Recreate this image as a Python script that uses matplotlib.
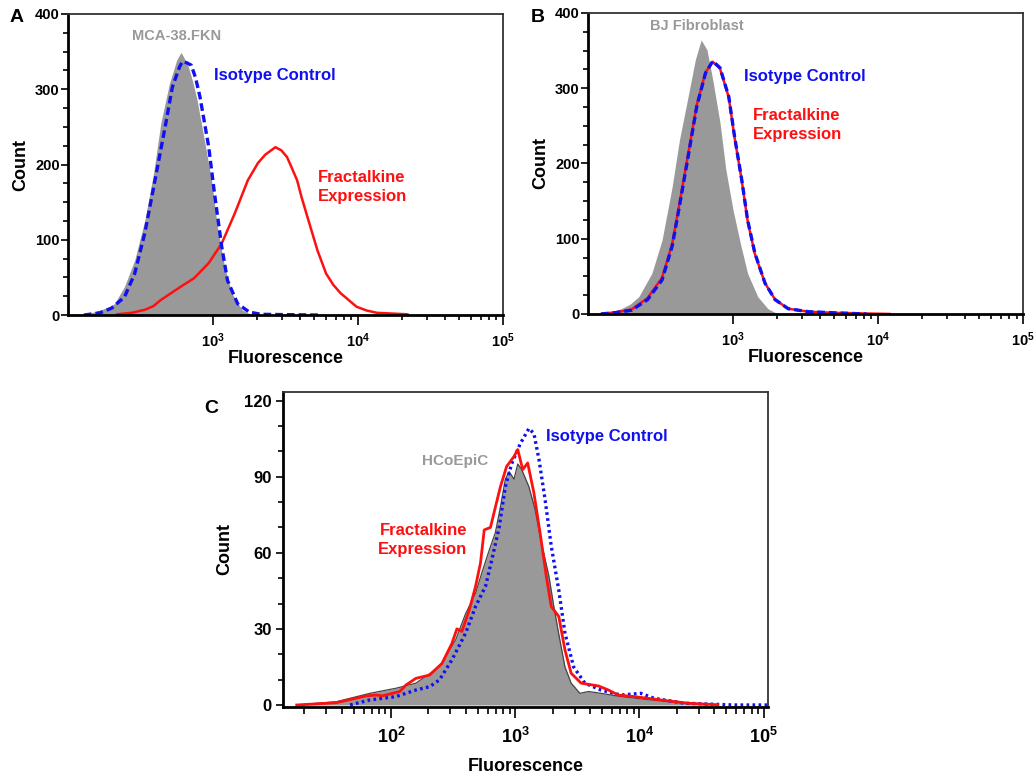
"""
Flow cytometry histograms of fractalkine expression against isotype control
for three cell lines (panels A, B and C).
"""

import numpy as np
import matplotlib
matplotlib.use("Agg")
import matplotlib.pyplot as plt
from matplotlib.ticker import FixedLocator, FixedFormatter, NullFormatter

plt.rcParams['font.family'] = ['Liberation Sans', 'DejaVu Sans']
plt.rcParams['font.weight'] = 'bold'
plt.rcParams['mathtext.fontset'] = 'custom'
plt.rcParams['mathtext.rm'] = 'Liberation Sans:bold'
plt.rcParams['mathtext.bf'] = 'Liberation Sans:bold'
plt.rcParams['lines.solid_joinstyle'] = 'round'

GREY = "#999999"
BLUE = "#1010f0"
RED = "#ff1010"

# ---- panel A : MCA-38.FKN  (x given as log10 of fluorescence) ----
a_grey_log = [2.08, 2.16, 2.23, 2.28, 2.32, 2.39, 2.46, 2.53, 2.59, 2.64, 2.70,
              2.75, 2.78, 2.80, 2.83, 2.86, 2.89, 2.94, 2.99, 3.03, 3.08, 3.13,
              3.20, 3.27]
a_grey_cnt = [0, 3, 7, 11, 15, 38, 73, 126, 188, 255, 308,
              339, 349, 342, 330, 310, 286, 233, 179, 117, 64, 29,
              7, 0]

a_iso_log = [2.11, 2.22, 2.30, 2.39, 2.46, 2.53, 2.60, 2.67, 2.72, 2.77, 2.79,
             2.82, 2.85, 2.88, 2.91, 2.97, 3.01, 3.06, 3.10, 3.17, 3.25, 3.33,
             3.74]
a_iso_cnt = [0, 3, 9, 24, 55, 109, 179, 250, 303, 330, 337,
             335, 332, 315, 290, 224, 162, 91, 46, 15, 4, 1,
             0]

a_fkn_log = [2.34, 2.44, 2.53, 2.59, 2.64, 2.71, 2.78, 2.87, 2.97, 3.06, 3.15,
             3.24, 3.31, 3.36, 3.43, 3.47, 3.51, 3.54, 3.58, 3.61, 3.65, 3.72,
             3.78, 3.83, 3.88, 3.99, 4.06, 4.13, 4.34]
a_fkn_cnt = [1, 3, 7, 12, 20, 29, 38, 49, 69, 95, 135,
             179, 202, 213, 223, 219, 210, 197, 179, 157, 131, 86,
             55, 40, 29, 11, 6, 3, 1]

# ---- panel B : BJ Fibroblast ----
b_grey_log = [2.09, 2.16, 2.23, 2.29, 2.35, 2.44, 2.51, 2.58, 2.63, 2.69, 2.74,
              2.78, 2.82, 2.86, 2.91, 2.95, 3.00, 3.05, 3.10, 3.17, 3.24, 3.31]
b_grey_cnt = [0, 3, 7, 13, 23, 54, 98, 169, 231, 289, 338,
              364, 351, 311, 254, 192, 138, 94, 54, 23, 7, 0]

b_iso_log = [2.09, 2.20, 2.30, 2.41, 2.51, 2.58, 2.63, 2.69, 2.75, 2.81, 2.86,
             2.91, 2.97, 3.01, 3.06, 3.10, 3.15, 3.22, 3.29, 3.38, 3.52, 3.70,
             3.92]
b_iso_cnt = [0, 2, 5, 19, 45, 90, 143, 209, 276, 320, 336,
             327, 289, 236, 178, 125, 81, 41, 19, 7, 3, 1.5,
             0]

b_fkn_log = [2.09, 2.20, 2.30, 2.41, 2.51, 2.58, 2.63, 2.69, 2.75, 2.81, 2.86,
             2.91, 2.97, 3.01, 3.06, 3.10, 3.15, 3.22, 3.29, 3.38, 3.52, 3.70,
             4.08]
b_fkn_cnt = [0, 2.5, 6, 21, 48, 93, 146, 212, 278, 321, 335,
             326, 288, 235, 177, 124, 80, 41, 19, 7, 3, 1.5,
             0]

# ---- panel C : HCoEpiC ----
c_grey_log = [1.24, 1.56, 1.83, 2.04, 2.20, 2.33, 2.41, 2.52, 2.60, 2.68, 2.73,
              2.79, 2.84, 2.88, 2.92, 2.95, 2.99, 3.02, 3.05, 3.11, 3.16, 3.21,
              3.27, 3.31, 3.35, 3.40, 3.45, 3.52, 3.59, 3.69, 3.85, 4.09, 4.36, 4.55]
c_grey_cnt = [0, 1.3, 4.6, 6.6, 8.6, 13, 16.4, 25.7, 36, 44, 52,
              61, 68, 78, 89, 92, 89, 95, 93, 86, 77, 64,
              51, 39, 28, 15, 8.6, 4.6, 5.3, 4.6, 3.3, 2, 0.7, 0]

c_iso_log = [1.67, 1.83, 2.04, 2.20, 2.31, 2.39, 2.49, 2.60, 2.68, 2.76, 2.81,
             2.87, 2.92, 2.97, 3.04, 3.11, 3.15, 3.19, 3.24, 3.29, 3.35, 3.40,
             3.47, 3.56, 3.69, 3.85, 4.01, 4.12, 4.36, 4.76, 5.03]
c_iso_cnt = [0, 2, 3.3, 5.9, 7.2, 9.9, 17.8, 28.3, 38.8, 46.7, 57,
             70, 86, 95, 103, 109, 107, 97, 81, 62.5, 45.4, 28.3,
             15, 8.6, 5.9, 3.9, 4.6, 2.6, 0.7, 0, 0]

c_fkn_log = [1.24, 1.56, 1.80, 1.88, 1.93, 2.07, 2.12, 2.20, 2.31, 2.41, 2.49,
             2.53, 2.57, 2.63, 2.68, 2.72, 2.75, 2.80, 2.84, 2.88, 2.93, 2.99,
             3.02, 3.06, 3.10, 3.15, 3.20, 3.25, 3.29, 3.35, 3.40, 3.45, 3.53,
             3.67, 3.75, 3.83, 3.96, 4.17, 4.39, 4.63]
c_fkn_cnt = [0, 0.9, 3.6, 3.9, 3.6, 5.3, 7.9, 10.5, 11.8, 16.4, 24.3,
             30, 29, 37.5, 46.7, 56, 69, 70, 78, 86, 94, 98,
             100.7, 92.8, 95.4, 83.6, 67.8, 50.7, 38.8, 34.9, 21.7, 12.5, 8.6,
             7.5, 5.9, 3.9, 3.3, 2, 0.7, 0.1]


def style_axes(ax):
    for side in ["left", "bottom"]:
        ax.spines[side].set_linewidth(2.0)
        ax.spines[side].set_color("black")
    for side in ["top", "right"]:
        ax.spines[side].set_linewidth(1.3)
        ax.spines[side].set_color("#333333")
    ax.tick_params(which="both", direction="out", width=1.2, colors="black")
    ax.tick_params(which="major", length=5)
    ax.tick_params(which="minor", length=3.5)


def top_panel(ax, grey_log, grey_cnt, iso_log, iso_cnt, fkn_log, fkn_cnt):
    ax.fill_between(10**np.array(grey_log), grey_cnt, 0, color=GREY, lw=0)
    ax.plot(10**np.array(fkn_log), fkn_cnt, color=RED, lw=1.8)
    ax.plot(10**np.array(iso_log), iso_cnt, color=BLUE, lw=2.4,
            dashes=(2.3, 1.2))
    ax.set_xscale("log")
    ax.set_xlim(1e2, 1e5)
    ax.set_ylim(0, 400)
    ax.xaxis.set_major_locator(FixedLocator([1e3, 1e4, 1e5]))
    ax.xaxis.set_major_formatter(FixedFormatter(
        [r"$\mathbf{10^{3}}$", r"$\mathbf{10^{4}}$", r"$\mathbf{10^{5}}$"]))
    ax.xaxis.set_minor_locator(FixedLocator(
        [m * 10**e for e in (3, 4) for m in range(2, 10)]))
    ax.xaxis.set_minor_formatter(NullFormatter())
    ax.yaxis.set_major_locator(FixedLocator([0, 100, 200, 300, 400]))
    ax.yaxis.set_minor_locator(FixedLocator(np.arange(25, 400, 25)))
    style_axes(ax)
    ax.tick_params(axis="x", which="major", length=7, labelsize=10.5, pad=5)
    ax.tick_params(axis="y", labelsize=10.5, pad=1)
    ax.set_ylabel("Count", fontsize=13, fontweight="bold", labelpad=4)
    ax.set_xlabel("Fluorescence", fontsize=13, fontweight="bold", labelpad=0)


fig = plt.figure(figsize=(10.36, 7.76), dpi=100)

# panel A
axA = fig.add_axes([0.0656, 0.594, 0.420, 0.388])
top_panel(axA, a_grey_log, a_grey_cnt, a_iso_log, a_iso_cnt, a_fkn_log, a_fkn_cnt)
axA.text(560, 371, "MCA-38.FKN", color=GREY, fontsize=10.5, fontweight="bold",
         ha="center", va="center")
axA.text(1010, 318, "Isotype Control", color=BLUE, fontsize=12,
         fontweight="bold", ha="left", va="center")
axA.text(5300, 170, "Fractalkine\nExpression", color=RED, fontsize=12,
         fontweight="bold", ha="left", va="center", linespacing=1.35)
fig.text(0.009, 0.977, "A", fontsize=14, fontweight="bold", va="center")

# panel B
axB = fig.add_axes([0.5676, 0.5954, 0.420, 0.388])
top_panel(axB, b_grey_log, b_grey_cnt, b_iso_log, b_iso_cnt, b_fkn_log, b_fkn_cnt)
axB.text(565, 383, "BJ Fibroblast", color=GREY, fontsize=10.5,
         fontweight="bold", ha="center", va="center")
axB.text(1190, 316, "Isotype Control", color=BLUE, fontsize=12,
         fontweight="bold", ha="left", va="center")
axB.text(1375, 251, "Fractalkine\nExpression", color=RED, fontsize=12,
         fontweight="bold", ha="left", va="center", linespacing=1.35)
fig.text(0.512, 0.977, "B", fontsize=14, fontweight="bold", va="center")

# panel C
axC = fig.add_axes([0.2732, 0.0889, 0.468, 0.406])
cg = 10**np.array(c_grey_log)
axC.fill_between(cg, c_grey_cnt, 0, color=GREY, lw=0)
axC.plot(cg, c_grey_cnt, color="#444444", lw=0.9)
axC.plot(10**np.array(c_iso_log), c_iso_cnt, color=BLUE, lw=2.4,
         linestyle=(0, (0.8, 1.0)))
axC.plot(10**np.array(c_fkn_log), c_fkn_cnt, color=RED, lw=2.0)
axC.set_xscale("log")
axC.set_xlim(10**1.13, 10**5.034)
axC.set_ylim(-0.8, 123.4)
axC.xaxis.set_major_locator(FixedLocator([1e2, 1e3, 1e4, 1e5]))
axC.xaxis.set_major_formatter(FixedFormatter(
    [r"$\mathbf{10^{2}}$", r"$\mathbf{10^{3}}$", r"$\mathbf{10^{4}}$",
     r"$\mathbf{10^{5}}$"]))
axC.xaxis.set_minor_locator(FixedLocator(
    [m * 10**e for e in (1, 2, 3, 4) for m in range(2, 10)]))
axC.xaxis.set_minor_formatter(NullFormatter())
axC.yaxis.set_major_locator(FixedLocator([0, 30, 60, 90, 120]))
axC.yaxis.set_minor_locator(FixedLocator([10, 20, 40, 50, 70, 80, 100, 110]))
style_axes(axC)
axC.tick_params(axis="x", which="major", length=8, labelsize=13, pad=6)
axC.tick_params(axis="x", which="minor", length=5)
axC.tick_params(axis="y", labelsize=12, pad=3)
axC.set_ylabel("Count", fontsize=13, fontweight="bold", labelpad=8)
axC.set_xlabel("Fluorescence", fontsize=13, fontweight="bold", labelpad=8)
axC.text(179, 96, "HCoEpiC", color=GREY, fontsize=11, fontweight="bold",
         ha="left", va="center")
axC.text(1760, 105.7, "Isotype Control", color=BLUE, fontsize=12,
         fontweight="bold", ha="left", va="center")
axC.text(410, 65, "Fractalkine\nExpression", color=RED, fontsize=12,
         fontweight="bold", ha="right", va="center", linespacing=1.35)
fig.text(0.197, 0.474, "C", fontsize=14, fontweight="bold", va="center")

fig.savefig("out.png", dpi=100)
